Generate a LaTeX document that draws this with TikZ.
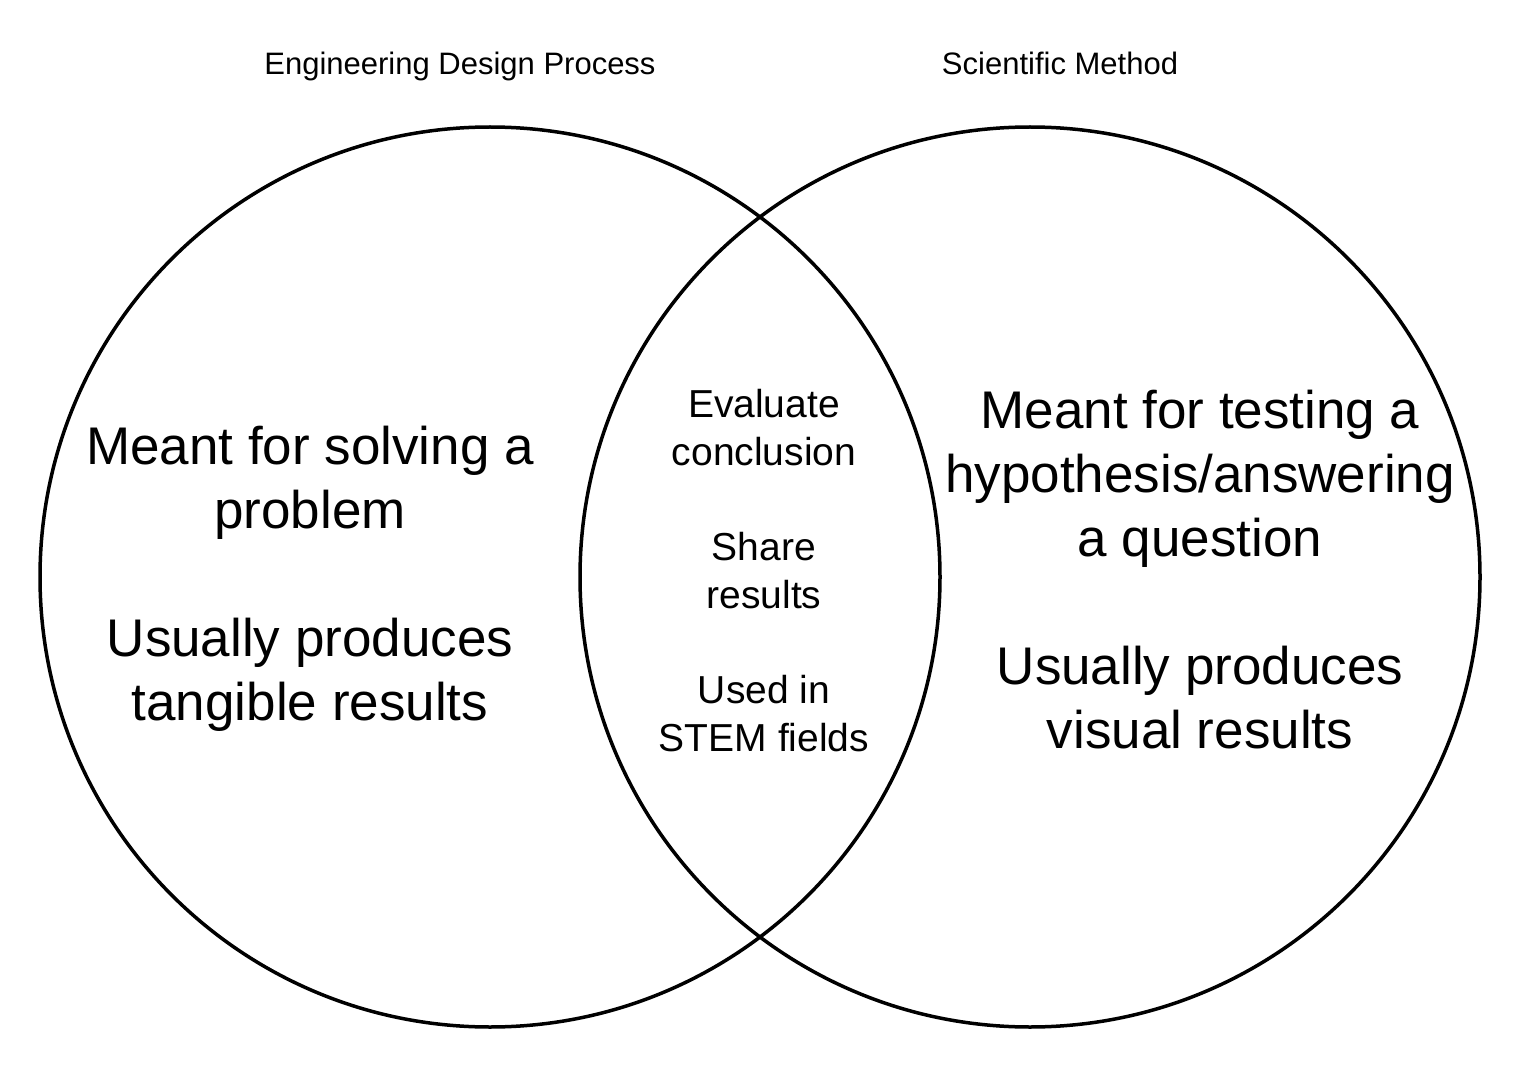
\documentclass[tikz,border=0pt]{standalone}
\usepackage{fontspec}
\setmainfont{Liberation Sans}
\usetikzlibrary{positioning}

\begin{document}
\begin{tikzpicture}[
  x=1pt, y=-1pt,
  set/.style={draw, circle, line width=3.5pt, minimum size=900pt, inner sep=0pt},
  big/.style={align=center, font=\fontsize{53}{64}\selectfont},
  mid/.style={align=center, font=\fontsize{39}{48}\selectfont},
  hdr/.style={anchor=base, font=\fontsize{31}{36}\selectfont}
]
\useasboundingbox (0,0) rectangle (1523,1067);
\node[set] (edp) at (490,577) {};
\node[set] (sm) at (1030,577) {};
\node[hdr] (edptitle) at (460,75) {Engineering Design Process};
\node[hdr] (smtitle) at (1060,75) {Scientific Method};
\node[big] (edptext) at (310,579) {Meant for solving a\\problem\\[64pt]Usually produces\\tangible results};
\node[big] (smtext) at (1200,570) {Meant for testing a\\hypothesis/answering\\a question\\[64pt]Usually produces\\visual results};
\node[mid] (both) at (764,571) {Evaluate\\conclusion\\[47pt]Share\\results\\[47pt]Used in\\STEM fields};
\end{tikzpicture}
\end{document}
